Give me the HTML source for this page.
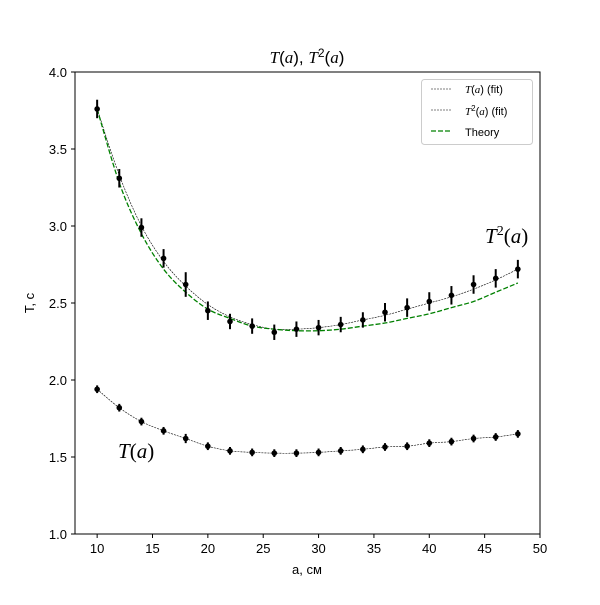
<!DOCTYPE html>
<html><head><meta charset="utf-8"><style>
body{margin:0;background:#fff}
svg text{font-family:"Liberation Sans","DejaVu Sans",sans-serif}
.m{font-family:"Liberation Serif","DejaVu Serif",serif;font-style:italic}
</style></head><body>
<svg id="c" width="600" height="600" viewBox="0 0 600 600" xmlns="http://www.w3.org/2000/svg">
<rect width="600" height="600" fill="#fff"/>
<g id="plot"></g>
<rect x="75" y="72" width="465" height="462" fill="none" stroke="#000" stroke-width="1"/>
<text x="307" y="63" text-anchor="middle" font-size="17"><tspan class="m">T</tspan>(<tspan class="m">a</tspan>), <tspan class="m">T</tspan><tspan font-size="12" dy="-6">2</tspan><tspan dy="6">(</tspan><tspan class="m">a</tspan>)</text>
<text x="307" y="574" text-anchor="middle" font-size="13">a, см</text>
<text x="34" y="303" text-anchor="middle" font-size="13" transform="rotate(-90 34 303)">T, c</text>
<text x="485" y="243" font-size="21" class="m">T<tspan font-size="14" dy="-8" font-style="normal">2</tspan><tspan dy="8" font-style="normal">(</tspan>a<tspan font-style="normal">)</tspan></text>
<text x="118" y="458" font-size="21" class="m">T<tspan font-style="normal">(</tspan>a<tspan font-style="normal">)</tspan></text>
<g>
<rect x="421.5" y="79.5" width="111" height="65" rx="3" fill="#fff" fill-opacity="0.8" stroke="#ccc"/>
<line x1="431" y1="89" x2="451" y2="89" stroke="#000" stroke-width="0.6" stroke-dasharray="2,1"/>
<text x="465" y="93" font-size="11"><tspan class="m">T</tspan>(<tspan class="m">a</tspan>) (fit)</text>
<line x1="431" y1="110" x2="451" y2="110" stroke="#000" stroke-width="0.6" stroke-dasharray="2,1"/>
<text x="465" y="115" font-size="11"><tspan class="m">T</tspan><tspan font-size="8" dy="-4">2</tspan><tspan dy="4">(</tspan><tspan class="m">a</tspan>) (fit)</text>
<line x1="431" y1="131" x2="451" y2="131" stroke="#008000" stroke-width="1.3" stroke-dasharray="5,2"/>
<text x="465" y="136" font-size="11">Theory</text>
</g>
</svg>
<script>
const xs=[10,12,14,16,18,20,22,24,26,28,30,32,34,36,38,40,42,44,46,48];
const t2=[3.76,3.31,2.99,2.79,2.62,2.45,2.38,2.35,2.31,2.33,2.34,2.36,2.39,2.44,2.47,2.51,2.55,2.62,2.66,2.72];
const t2err=[0.06,0.06,0.06,0.06,0.08,0.06,0.05,0.05,0.05,0.05,0.05,0.05,0.05,0.06,0.06,0.06,0.06,0.06,0.06,0.06];
const t2fit=[3.76,3.33,3.00,2.77,2.61,2.49,2.41,2.36,2.33,2.33,2.34,2.36,2.39,2.42,2.46,2.50,2.54,2.59,2.65,2.72];
const theory=[3.76,3.28,2.95,2.72,2.57,2.46,2.40,2.35,2.33,2.32,2.32,2.33,2.35,2.37,2.40,2.43,2.47,2.51,2.57,2.63];
const t1=[1.94,1.82,1.73,1.67,1.62,1.57,1.54,1.53,1.525,1.525,1.53,1.54,1.55,1.565,1.57,1.59,1.60,1.62,1.63,1.65];
const t1err=[0.025,0.025,0.025,0.025,0.03,0.025,0.025,0.025,0.025,0.025,0.025,0.025,0.025,0.025,0.025,0.025,0.025,0.025,0.025,0.025];
const xTicks=[10,15,20,25,30,35,40,45,50];
const yTicks=[1.0,1.5,2.0,2.5,3.0,3.5,4.0];
const X=v=>75+(v-8)*465/42;
const Y=v=>534-(v-1)*154;
const NS='http://www.w3.org/2000/svg';
const g=document.getElementById('plot');
function mk(t,a){const e=document.createElementNS(NS,t);for(const k in a)e.setAttribute(k,a[k]);g.appendChild(e);return e;}
xTicks.forEach(v=>{
 const l=mk('line',{x1:X(v),x2:X(v),y1:534,y2:538,stroke:'#000'});
 
 
 const t=mk('text',{x:X(v),y:553,'text-anchor':'middle','font-size':13});t.textContent=v;
 
 
});
yTicks.forEach(v=>{
 const l=mk('line',{x1:71,x2:75,y1:Y(v),y2:Y(v),stroke:'#000'});
 
 
 const t=mk('text',{x:67,y:Y(v)+5,'text-anchor':'end','font-size':13});t.textContent=v.toFixed(1);
 
 
});
function smooth(ys){
 const p=xs.map((x,i)=>[X(x),Y(ys[i])]);let d='M'+p[0][0]+','+p[0][1];
 for(let i=0;i<p.length-1;i++){const p0=p[Math.max(i-1,0)],p1=p[i],p2=p[i+1],p3=p[Math.min(i+2,p.length-1)];
  d+=' C'+(p1[0]+(p2[0]-p0[0])/6)+','+(p1[1]+(p2[1]-p0[1])/6)+' '+(p2[0]-(p3[0]-p1[0])/6)+','+(p2[1]-(p3[1]-p1[1])/6)+' '+p2[0]+','+p2[1];}
 return d;}
const f1=mk('path',{d:smooth(t1),fill:'none',stroke:'#000','stroke-width':0.6,'stroke-dasharray':'2,1'});


const f2=mk('path',{d:smooth(t2fit),fill:'none',stroke:'#000','stroke-width':0.6,'stroke-dasharray':'2,1'});


const th=mk('path',{d:smooth(theory),fill:'none',stroke:'#008000','stroke-width':1.3,'stroke-dasharray':'5,2'});


function pts(ys,es,name){
 xs.forEach((x,i)=>{
  const e=mk('line',{x1:X(x),x2:X(x),y1:Y(ys[i]-es[i]),y2:Y(ys[i]+es[i]),stroke:'#000','stroke-width':2});
  
  
  const c=mk('circle',{cx:X(x),cy:Y(ys[i]),r:2.8,fill:'#000'});
  
  
 });}
pts(t2,t2err,'t2');
pts(t1,t1err,'t');
</script>
</body></html>
